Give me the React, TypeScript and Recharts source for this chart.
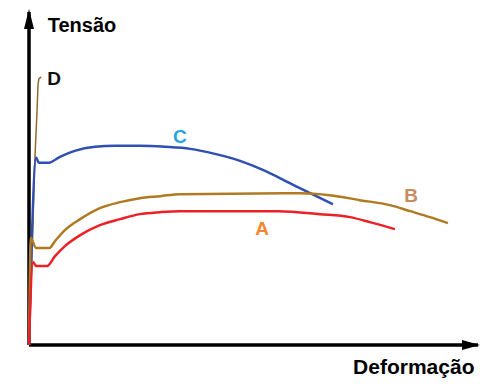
import { ComposedChart, Line, XAxis, YAxis, ReferenceDot, ReferenceLine } from "recharts";

// schematic stress-strain curves (arbitrary units 0-100)
const curveA = [
  { x: 0, y: 0 }, { x: 0.9, y: 24.9 }, { x: 1.6, y: 23.7 }, { x: 4.0, y: 23.7 },
  { x: 5.8, y: 26.7 }, { x: 8.0, y: 29.7 }, { x: 11.4, y: 33.0 }, { x: 15.8, y: 36.0 },
  { x: 20.3, y: 37.8 }, { x: 24.7, y: 39.3 }, { x: 29.2, y: 39.9 }, { x: 33.6, y: 40.2 },
  { x: 55.5, y: 40.2 }, { x: 64.8, y: 39.3 }, { x: 71.5, y: 38.4 }, { x: 75.9, y: 36.9 },
  { x: 81.5, y: 34.8 },
];

const curveB = [
  { x: 0, y: 0 }, { x: 0.4, y: 32.1 }, { x: 1.6, y: 29.1 }, { x: 4.5, y: 29.1 },
  { x: 5.8, y: 31.2 }, { x: 8.0, y: 34.5 }, { x: 11.4, y: 37.8 }, { x: 15.8, y: 41.1 },
  { x: 20.3, y: 42.9 }, { x: 24.7, y: 44.1 }, { x: 29.2, y: 44.7 }, { x: 33.6, y: 45.3 },
  { x: 60.4, y: 45.6 }, { x: 67.0, y: 45.0 }, { x: 73.7, y: 43.5 }, { x: 80.4, y: 42.0 },
  { x: 84.9, y: 40.2 }, { x: 89.3, y: 38.4 }, { x: 93.3, y: 36.6 },
];

const curveC = [
  { x: 0, y: 0 }, { x: 1.6, y: 56.2 }, { x: 2.2, y: 54.7 }, { x: 4.2, y: 54.7 },
  { x: 6.9, y: 56.5 }, { x: 10.2, y: 58.3 }, { x: 14.7, y: 59.5 }, { x: 19.2, y: 59.8 },
  { x: 24.7, y: 59.8 }, { x: 30.3, y: 59.5 }, { x: 35.9, y: 58.9 }, { x: 41.4, y: 57.4 },
  { x: 47.0, y: 55.3 }, { x: 52.6, y: 52.3 }, { x: 58.1, y: 48.6 }, { x: 62.6, y: 45.6 },
  { x: 67.7, y: 42.3 },
];

const curveD = [
  { x: 0, y: 0 }, { x: 0.7, y: 28.5 }, { x: 1.3, y: 55.6 }, { x: 1.8, y: 70.6 },
  { x: 2.0, y: 78.1 }, { x: 2.2, y: 79.9 }, { x: 2.7, y: 80.5 },
];

const curveLabels = [
  { text: "D", x: 5.6, y: 80.2, color: "#111111" },
  { text: "C", x: 33.6, y: 62.8, color: "#1ea4e0" },
  { text: "B", x: 85.1, y: 45.0, color: "#c98c63" },
  { text: "A", x: 51.9, y: 35.1, color: "#f5862e" },
];

const axisTitles = [
  { text: "Tensão", x: 11.8, y: 96.1, size: 20 },
  { text: "Deformação", x: 85.7, y: -6.6, size: 21 },
];

const FONT = "Arial, 'Liberation Sans', sans-serif";

const ArrowUp = ({ cx, cy }: any) => (
  <polygon points={`${cx},${cy - 3} ${cx - 5},${cy + 17} ${cx + 5},${cy + 17}`} fill="#000" />
);

const ArrowRight = ({ cx, cy }: any) => (
  <polygon points={`${cx + 2},${cy} ${cx - 16},${cy - 5} ${cx - 16},${cy + 5}`} fill="#000" />
);

export default function App() {
  return (
    <div style={{ position: "absolute", left: 0, top: 0, background: "#fff" }}>
      <ComposedChart
        width={487}
        height={391}
        margin={{ top: 12, right: 9, bottom: 46, left: 29 }}
      >
        <XAxis type="number" dataKey="x" domain={[0, 100]} hide />
        <YAxis type="number" dataKey="y" domain={[0, 100]} hide />

        <ReferenceLine x={0} stroke="#000" strokeWidth={3.5} ifOverflow="visible" />
        <ReferenceLine y={0} stroke="#000" strokeWidth={3.5} ifOverflow="visible" />

        <Line data={curveD} dataKey="y" type="linear" stroke="#8f6c2e" strokeWidth={1.5} dot={false} isAnimationActive={false} />
        <Line data={curveC} dataKey="y" type="monotone" stroke="#2f4fb4" strokeWidth={2.5} dot={false} isAnimationActive={false} />
        <Line data={curveB} dataKey="y" type="monotone" stroke="#b07a22" strokeWidth={2.5} dot={false} isAnimationActive={false} />
        <Line data={curveA} dataKey="y" type="monotone" stroke="#ec2027" strokeWidth={2.5} dot={false} isAnimationActive={false} />

        <ReferenceDot x={0} y={100} r={0} ifOverflow="visible" shape={ArrowUp} />
        <ReferenceDot x={100} y={0} r={0} ifOverflow="visible" shape={ArrowRight} />

        {curveLabels.map((l) => (
          <ReferenceDot
            key={l.text}
            x={l.x}
            y={l.y}
            r={0}
            ifOverflow="visible"
            label={{ value: l.text, position: "center", fill: l.color, fontSize: 19, fontWeight: "bold", fontFamily: FONT }}
          />
        ))}
        {axisTitles.map((t) => (
          <ReferenceDot
            key={t.text}
            x={t.x}
            y={t.y}
            r={0}
            ifOverflow="visible"
            label={{ value: t.text, position: "center", fill: "#000", fontSize: t.size, fontWeight: "bold", fontFamily: FONT }}
          />
        ))}
      </ComposedChart>
    </div>
  );
}
